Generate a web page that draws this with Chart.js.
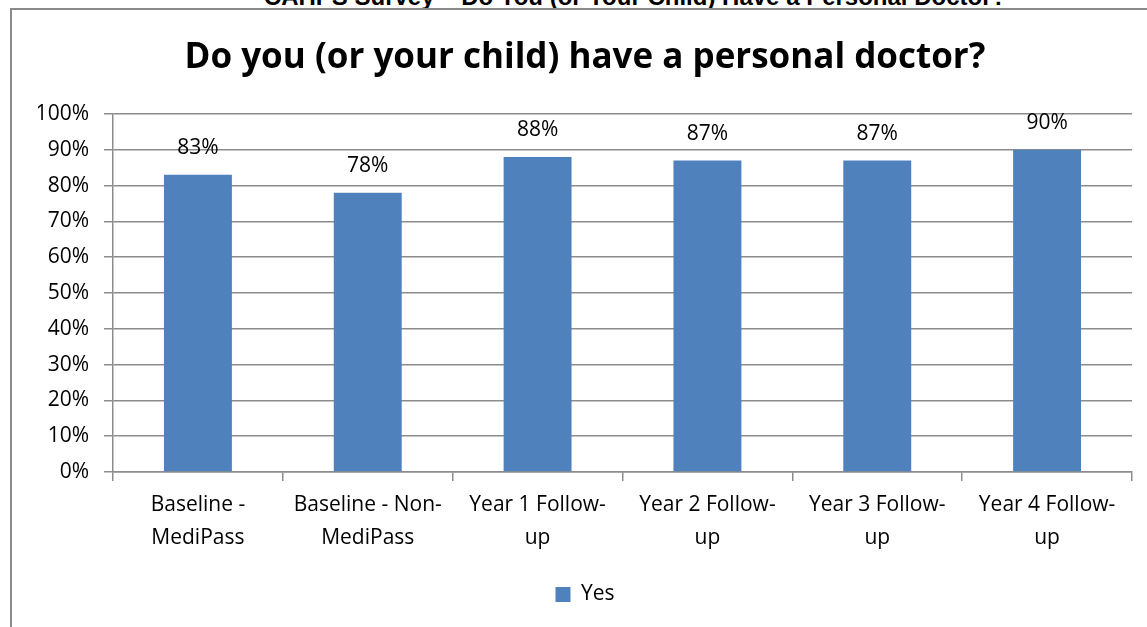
<!DOCTYPE html>
<html>
<head>
<meta charset="utf-8">
<script src="https://cdn.jsdelivr.net/npm/chart.js@4/dist/chart.umd.min.js"></script>
<style>
  html, body { margin:0; padding:0; background:#fff; overflow:hidden; }
  #wrap { position:relative; width:1147px; height:627px; overflow:hidden; }
  #frame { position:absolute; left:10px; top:8px; width:1400px; height:900px; border-left:2px solid #8a8a8a; border-top:2px solid #8a8a8a; }
  #topTitle { position:absolute; left:0; width:1270px; top:-15px; text-align:center; font:bold 24px "Liberation Sans", Arial, sans-serif; line-height:24px; color:#000; white-space:nowrap; }
  canvas { position:absolute; left:0; top:0; }
</style>
</head>
<body>
<div id="wrap">
  <div id="topTitle">CAHPS Survey – Do You (or Your Child) Have a Personal Doctor?</div>
  <div id="frame"></div>
  <canvas id="doctorChart" width="1147" height="627"></canvas>
</div>
<script>
// chart data
const categories = [
  ["Baseline -", "MediPass"],
  ["Baseline - Non-", "MediPass"],
  ["Year 1 Follow-", "up"],
  ["Year 2 Follow-", "up"],
  ["Year 3 Follow-", "up"],
  ["Year 4 Follow-", "up"]
];
const yesValues = [83, 78, 88, 87, 87, 90];
const yTicks = [0, 10, 20, 30, 40, 50, 60, 70, 80, 90, 100];

const fontFamily = "'Open Sans', Lato, sans-serif";
const padLeft = 38;

// value labels above each bar
const barLabels = {
  id: "barLabels",
  afterDatasetsDraw(chart) {
    const c = chart.ctx;
    c.save();
    c.font = "21px " + fontFamily;
    c.fillStyle = "#000";
    c.textAlign = "center";
    c.textBaseline = "middle";
    chart.getDatasetMeta(0).data.forEach((bar, i) => {
      c.fillText(yesValues[i] + "%", bar.x, bar.y - 27);
    });
    c.restore();
  }
};

const ctx = document.getElementById("doctorChart").getContext("2d");

new Chart(ctx, {
    type: "bar",
    data: {
        labels: categories,
        datasets: [{
            label: "Yes",
            data: yesValues,
            backgroundColor: "#4f81bd",
            borderWidth: 0,
            barPercentage: 0.4,
            categoryPercentage: 1
        }]
    },
    options: {
        responsive: false,
        animation: false,
        layout: { padding: { left: padLeft, right: 15, top: 0, bottom: 12 } },
        plugins: {
            title: {
                display: true,
                text: "Do you (or your child) have a personal doctor?",
                color: "#000",
                font: { family: fontFamily, size: 35, weight: "bold" },
                padding: { top: 37, bottom: 35 }
            },
            legend: {
                display: true,
                position: "bottom",
                labels: {
                    color: "#000",
                    font: { family: fontFamily, size: 21 },
                    boxWidth: 15,
                    boxHeight: 15,
                    padding: 10
                }
            },
            tooltip: { enabled: false }
        },
        scales: {
            y: {
                min: 0,
                max: 100,
                afterBuildTicks(scale) {
                    scale.ticks = yTicks.map(v => ({ value: v }));
                },
                afterFit(scale) { scale.width = 113 - padLeft; },
                ticks: {
                    color: "#000",
                    font: { family: fontFamily, size: 21 },
                    padding: 15,
                    callback: v => v + "%"
                },
                grid: { color: "#8c8c8c", lineWidth: 1.5, tickLength: 9 },
                border: { color: "#8c8c8c", width: 1.5 }
            },
            x: {
                afterFit(scale) { scale.height = 102; },
                ticks: {
                    color: "#000",
                    font: { family: fontFamily, size: 21, lineHeight: 1.57 },
                    padding: 8,
                    autoSkip: false,
                    maxRotation: 0
                },
                grid: { display: true, drawOnChartArea: false, offset: true, tickLength: 9, color: "#8c8c8c", lineWidth: 1.5 },
                border: { color: "#8c8c8c", width: 1.5 }
            }
        }
    },
    plugins: [barLabels]
});
</script>
</body>
</html>
